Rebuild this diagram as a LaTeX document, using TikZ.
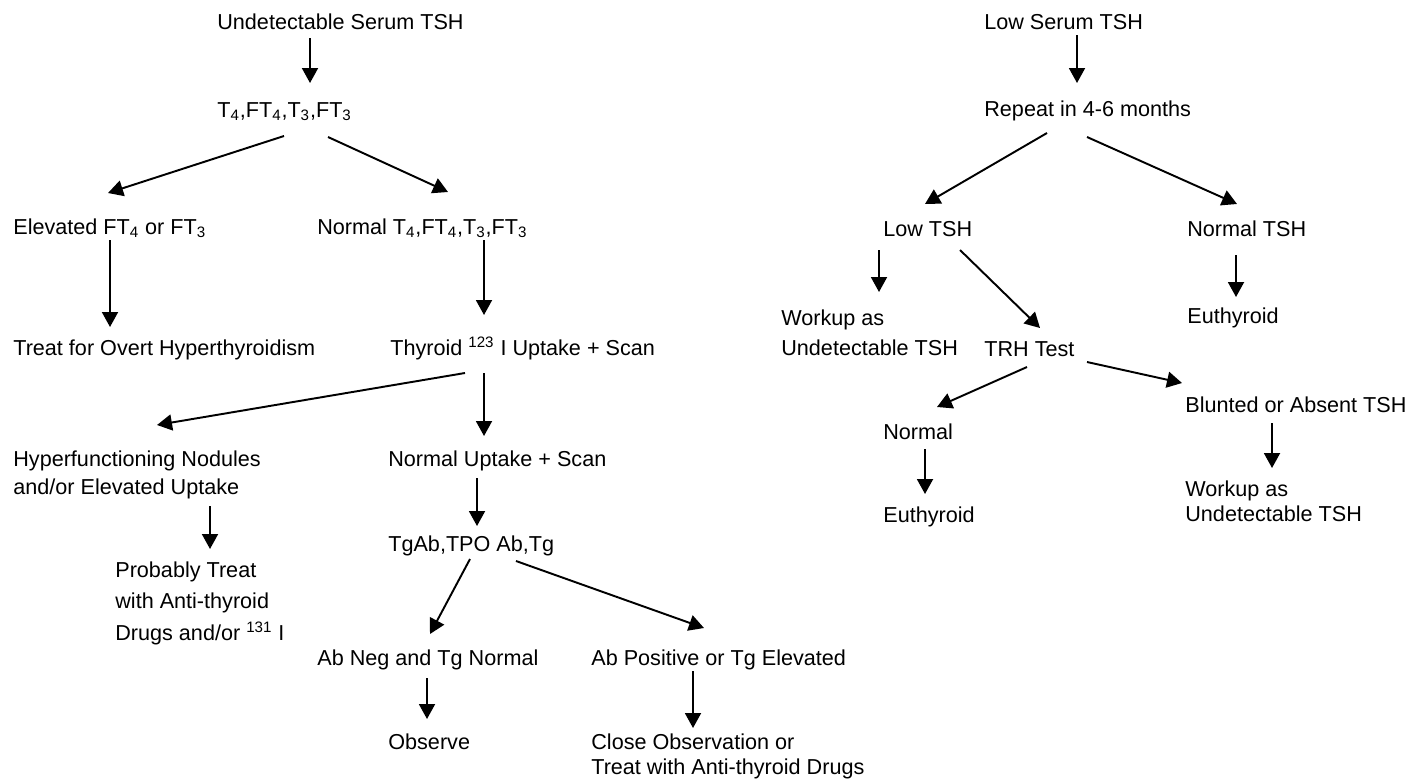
\documentclass[tikz,border=0pt]{standalone}
\usepackage{fontspec}
\setmainfont{Liberation Sans}
\usetikzlibrary{arrows.meta}
\tikzset{
    lbl/.style={inner sep=0pt, anchor=base west, font=\fontsize{12.3}{16}\selectfont},
    blk/.style={lbl, anchor=north west, align=left},
    arr/.style={-{Triangle[length=0.3cm,width=0.32cm]}, line width=1.1pt},
}

\begin{document}
\begin{tikzpicture}[x=0.02cm,y=-0.02cm]
		\useasboundingbox (0,0) rectangle (1412,781);
		\node[lbl] (ust) at (217,30) {Undetectable Serum TSH};
		\node[lbl] (t4) at (217,117) {T\textsubscript{4},FT\textsubscript{4},T\textsubscript{3},FT\textsubscript{3}};
		\node[lbl] (eft) at (13,234) {Elevated FT\textsubscript{4} or FT\textsubscript{3}};
		\node[lbl] (nt4) at (317,234) {Normal T\textsubscript{4},FT\textsubscript{4},T\textsubscript{3},FT\textsubscript{3}};
		\node[lbl] (tre) at (13,355) {Treat for Overt Hyperthyroidism};
		\node[lbl] (thy) at (390,355) {Thyroid \textsuperscript{123} I Uptake + Scan};
		\node[blk] (hyp) at (13,450) {Hyperfunctioning Nodules\\and/or Elevated Uptake};
		\node[lbl] (nus) at (388,466) {Normal Uptake + Scan};
		\node[blk] (prb) at (115,561) {Probably Treat\\[2pt]with Anti-thyroid\\[2pt]Drugs and/or \textsuperscript{131} I};
		\node[lbl] (tga) at (388,551) {TgAb,TPO Ab,Tg};
		\node[lbl] (abn) at (317,665) {Ab Neg and Tg Normal};
		\node[lbl] (abp) at (591,665) {Ab Positive or Tg Elevated};
		\node[lbl] (obs) at (388,749) {Observe};
		\node[blk] (clo) at (591,733) {Close Observation or\\[-1.5pt]Treat with Anti-thyroid Drugs};
		\node[lbl] (lst) at (984,30) {Low Serum TSH};
		\node[lbl] (rep) at (984,116) {Repeat in 4-6 months};
		\node[lbl] (ltsh) at (883,236) {Low TSH};
		\node[lbl] (ntsh) at (1187,236) {Normal TSH};
		\node[blk] (wk1) at (781,309) {Workup as\\[1.5pt]Undetectable TSH};
		\node[lbl] (trh) at (984,356) {TRH Test};
		\node[lbl] (eu1) at (1187,323) {Euthyroid};
		\node[lbl] (nrm) at (883,439) {Normal};
		\node[lbl] (bla) at (1185,412) {Blunted or Absent TSH};
		\node[lbl] (eu2) at (883,522) {Euthyroid};
		\node[blk] (wk2) at (1185,480) {Workup as\\[-1.5pt]Undetectable TSH};
		\foreach \s/\sx/\sy/\t/\tx/\ty in {ust.base west/93/8/t4.base west/93/-34,
			t4.base west/67/19/eft.base west/95/-41, t4.base west/111/20/nt4.base west/131/-42,
			eft.base west/97/6/tre.base west/97/-28, nt4.base west/167/6/thy.base west/94/-40,
			thy.base west/75/18/hyp.north west/144/-25, thy.base west/94/18/nus.base west/96/-30,
			hyp.north west/197/56/prb.north west/95/-12, nus.base west/89/12/tga.base west/89/-25,
			tga.base west/82/8/abn.base west/113/-31, tga.base west/128/10/abp.base west/113/-37,
			abn.base west/110/13/obs.base west/39/-30, abp.base west/102/6/clo.north west/102/-5}
			\draw[arr] ([shift={(\sx,\sy)}]\s) -- ([shift={(\tx,\ty)}]\t);
		\foreach \s/\sx/\sy/\t/\tx/\ty in {lst.base west/93/5/rep.base west/93/-33,
			rep.base west/63/17/ltsh.base west/42/-32, rep.base west/103/21/ntsh.base west/50/-32,
			ltsh.base west/-4/14/wk1.north west/98/-17, ltsh.base west/77/14/trh.base west/56/-28,
			ntsh.base west/49/19/eu1.base west/49/-26, trh.base west/43/11/nrm.base west/54/-32,
			trh.base west/103/6/bla.base west/-3/-29, nrm.base west/42/10/eu2.base west/42/-28,
			bla.base west/87/11/wk2.north west/87/-12}
			\draw[arr] ([shift={(\sx,\sy)}]\s) -- ([shift={(\tx,\ty)}]\t);
	\end{tikzpicture}
\end{document}
